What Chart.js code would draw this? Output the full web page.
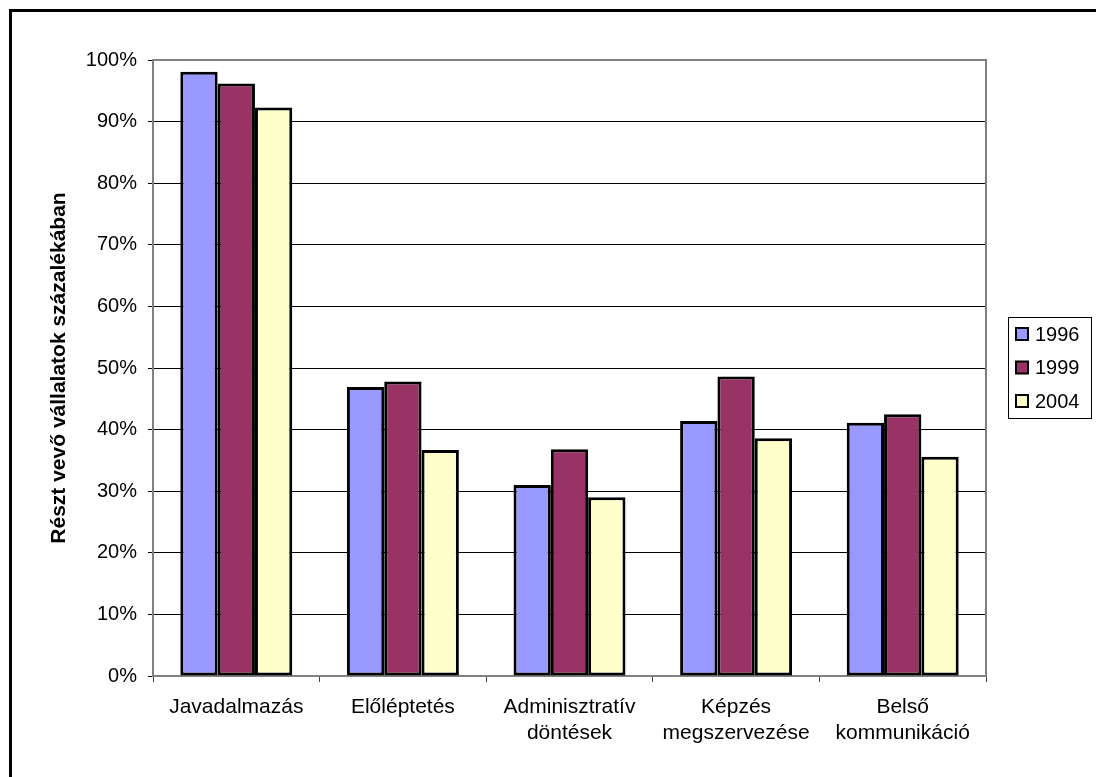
<!DOCTYPE html>
<html><head><meta charset="utf-8">
<script src="https://cdn.jsdelivr.net/npm/chart.js@4/dist/chart.umd.min.js"></script>
<style>html,body{margin:0;padding:0;background:#fff;overflow:hidden}</style>
</head><body>
<canvas id="c" width="1096" height="777"></canvas>
<script>
const categories = ['Javadalmazás', 'Előléptetés', ['Adminisztratív', 'döntések'], ['Képzés', 'megszervezése'], ['Belső', 'kommunikáció']];
const seriesNames = ['1996', '1999', '2004'];
const values1996 = [98.1, 46.9, 31.0, 41.4, 41.1];
const values1999 = [96.2, 47.8, 36.8, 48.6, 42.5];
const values2004 = [92.3, 36.7, 29.0, 38.6, 35.6];
const seriesColors = ['#9999FF', '#993366', '#FFFFCC'];
const yMin = 0, yMax = 100, yStep = 10;
const yTitle = 'Részt vevő vállalatok százalékában';

const FONT = "'Liberation Sans', Arial, Helvetica, sans-serif";
Chart.defaults.font.family = FONT;
Chart.defaults.font.size = 20;
Chart.defaults.color = '#000';

const framePlugin = {
  id: 'frame',
  beforeDraw(chart) {
    const ctx = chart.ctx;
    ctx.save();
    ctx.fillStyle = '#fff';
    ctx.fillRect(0, 0, chart.width, chart.height);
    ctx.restore();
  },
  beforeDatasetsDraw(chart) {
    const a = chart.chartArea, ctx = chart.ctx;
    ctx.save();
    ctx.strokeStyle = '#808080';
    ctx.lineWidth = 2;
    ctx.beginPath();
    ctx.moveTo(a.left, a.top);
    ctx.lineTo(a.right, a.top);
    ctx.lineTo(a.right, a.bottom);
    ctx.stroke();
    ctx.restore();
  },
  afterDraw(chart) {
    const ctx = chart.ctx;
    ctx.save();
    // outer border
    ctx.strokeStyle = '#000';
    ctx.lineWidth = 3;
    ctx.beginPath();
    ctx.moveTo(10.5, 800);
    ctx.lineTo(10.5, 10.5);
    ctx.lineTo(1110, 10.5);
    ctx.stroke();
    // legend
    ctx.lineWidth = 1;
    ctx.strokeStyle = '#000';
    ctx.strokeRect(1008.5, 317.5, 83, 101);
    ctx.font = '20px ' + FONT;
    ctx.textBaseline = 'middle';
    ctx.textAlign = 'left';
    chart.data.datasets.forEach((ds, i) => {
      const cy = 334 + i * 33.5;
      ctx.fillStyle = ds.backgroundColor;
      ctx.fillRect(1016, cy - 6, 12, 12);
      ctx.lineWidth = 2;
      ctx.strokeStyle = '#000';
      ctx.strokeRect(1016, cy - 6, 12, 12);
      ctx.fillStyle = '#000';
      ctx.fillText(ds.label, 1035, cy + 1);
    });
    ctx.restore();
  }
};

const seriesValues = [values1996, values1999, values2004];
new Chart(document.getElementById('c'), {
  type: 'bar',
  data: {
    labels: categories,
    datasets: seriesNames.map((name, i) => ({
      label: name,
      data: seriesValues[i],
      backgroundColor: seriesColors[i],
      borderColor: '#000',
      borderWidth: 3,
      borderSkipped: false,
      categoryPercentage: 0.672,
      barPercentage: 1.0
    }))
  },
  options: {
    responsive: false,
    animation: false,
    layout: { padding: { left: 43, top: 60, right: 110, bottom: 0 } },
    plugins: { legend: { display: false }, tooltip: { enabled: false } },
    scales: {
      x: {
        offset: true,
        grid: { display: true, drawOnChartArea: false, drawTicks: true, tickLength: 6, offset: true, color: '#404040', tickColor: '#404040' },
        border: { display: true, color: '#808080', width: 2 },
        ticks: { padding: 12, font: { size: 21, lineHeight: 1.25 }, color: '#000', maxRotation: 0, autoSkip: false },
        afterFit(scale) { scale.height = 101; }
      },
      y: {
        min: yMin, max: yMax,
        ticks: { stepSize: yStep, padding: 11, color: '#000', font: { size: 20 }, callback: v => v + '%' },
        grid: { color: '#000', lineWidth: 1, tickLength: 5, tickColor: '#000' },
        border: { display: true, color: '#808080', width: 2 },
        title: { display: true, text: yTitle, color: '#000', font: { size: 21, weight: 'bold' }, padding: { top: 4, bottom: 0 } },
        afterFit(scale) { scale.width = 110; }
      }
    }
  },
  plugins: [framePlugin]
});
</script>
</body></html>
